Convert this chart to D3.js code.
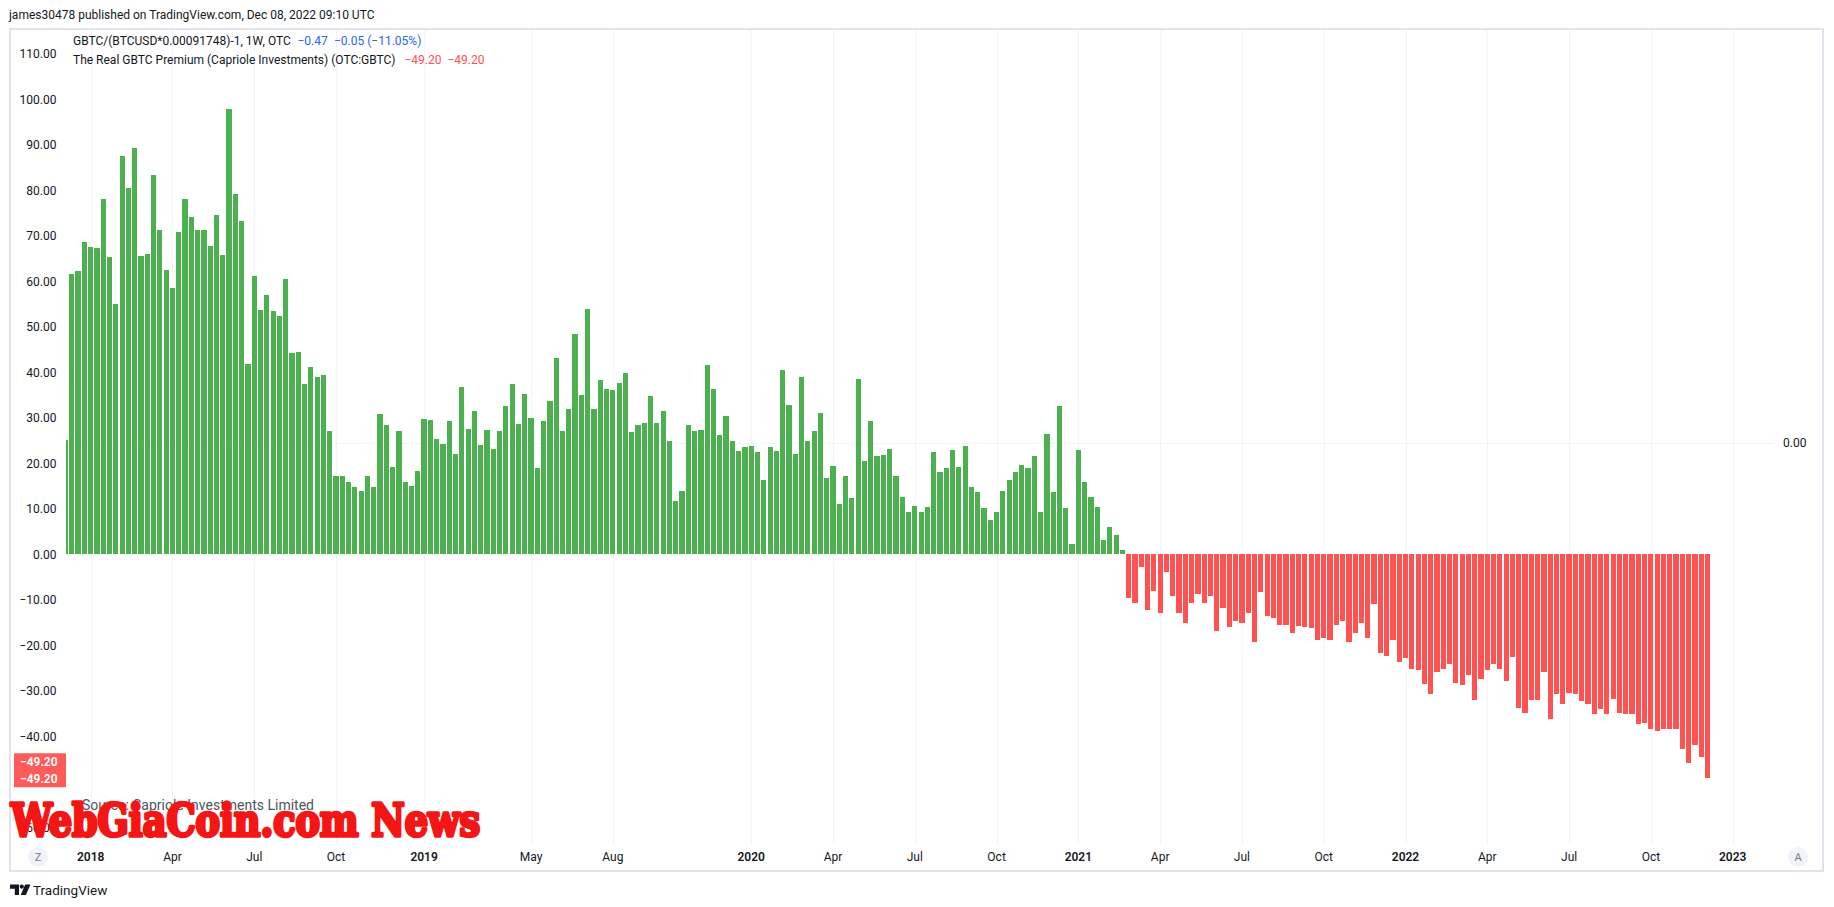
<!DOCTYPE html>
<html><head><meta charset="utf-8">
<script src="https://cdn.jsdelivr.net/npm/d3@7"></script>
<style>
body{margin:0;background:#fff;}
svg{display:block;font-family:Roboto,"Noto Sans",sans-serif;}
</style>
</head><body><svg id="c" width="1834" height="907"></svg>
<script>
// ---- DATA ----
const startWeek = "2017-12-04"; // first weekly bar (Monday)
const premium = [
  25.2, 61.6, 62.3, 68.6, 67.5, 67.3, 78.1, 65.4, 55.0, 87.5,
  80.5, 89.3, 65.6, 66.0, 83.3, 71.3, 62.5, 58.6, 70.8, 78.1,
  74.1, 71.3, 71.3, 67.8, 74.6, 65.8, 97.8, 79.2, 73.2, 41.9,
  61.2, 53.7, 57.0, 53.5, 52.4, 60.5, 44.3, 44.5, 37.5, 41.2,
  39.0, 39.5, 27.0, 17.3, 17.1, 16.0, 14.9, 14.0, 17.3, 14.9,
  30.9, 28.5, 19.1, 27.0, 15.8, 15.1, 18.4, 29.8, 29.6, 25.4,
  24.3, 29.2, 22.1, 36.8, 27.6, 31.6, 24.1, 27.4, 23.2, 27.2,
  32.7, 37.5, 28.7, 35.3, 30.0, 18.9, 29.4, 33.8, 43.2, 27.2,
  32.0, 48.5, 35.1, 53.9, 32.0, 38.4, 36.4, 36.2, 37.7, 39.9,
  26.8, 28.5, 28.9, 34.9, 28.9, 31.6, 25.0, 11.8, 14.0, 28.5,
  27.2, 27.4, 41.7, 36.4, 26.3, 30.5, 24.8, 22.8, 23.5, 23.9,
  22.4, 16.4, 23.5, 22.6, 40.6, 32.9, 22.1, 39.0, 24.8, 27.0,
  31.1, 16.7, 19.3, 11.0, 17.3, 12.3, 38.6, 20.6, 29.2, 21.7,
  21.9, 23.2, 17.3, 12.5, 9.2, 10.7, 9.4, 10.3, 22.4, 18.0,
  18.9, 23.0, 19.1, 23.7, 14.7, 13.6, 10.1, 7.5, 9.4, 14.0,
  16.4, 18.0, 19.7, 18.9, 21.7, 9.4, 26.5, 13.6, 32.7, 10.1,
  2.2, 23.0, 16.0, 12.7, 10.5, 3.1, 6.1, 4.2, 0.9, -9.5,
  -10.6, -2.7, -12.2, -8.0, -12.8, -3.8, -9.1, -12.8, -15.2, -10.6,
  -8.7, -10.6, -9.1, -16.8, -11.7, -15.9, -14.6, -15.0, -13.0, -19.2,
  -8.2, -13.5, -13.9, -15.5, -15.5, -17.2, -15.7, -15.9, -16.3, -18.8,
  -18.3, -18.8, -15.5, -14.6, -19.2, -17.2, -15.2, -18.5, -10.9, -21.6,
  -22.3, -18.8, -23.6, -22.7, -25.3, -25.5, -28.4, -30.6, -25.8, -25.1,
  -24.0, -28.2, -28.8, -26.6, -32.1, -27.3, -25.5, -24.2, -25.1, -27.8,
  -22.5, -33.7, -34.8, -32.1, -32.1, -25.8, -36.1, -30.6, -33.0, -30.4,
  -30.6, -32.3, -33.0, -35.2, -34.1, -35.2, -31.7, -34.8, -35.0, -35.0,
  -37.2, -37.0, -38.5, -38.9, -38.5, -38.3, -38.3, -42.7, -45.8, -42.0,
  -44.6, -49.2
];
const tickLabels = ["2018","Apr","Jul","Oct","2019","May","Aug","2020","Apr","Jul","Oct","2021","Apr","Jul","Oct","2022","Apr","Jul","Oct","2023"];
const tickDates  = ["2018-01-01","2018-04-02","2018-07-02","2018-10-01","2019-01-07","2019-05-06","2019-08-05","2020-01-06","2020-04-06","2020-07-06","2020-10-05","2021-01-04","2021-04-05","2021-07-05","2021-10-04","2022-01-03","2022-04-04","2022-07-04","2022-10-03","2023-01-02"];
const leftTicks = [110,100,90,80,70,60,50,40,30,20,10,0,-10,-20,-30,-40,-50,-60];
const rightTicks = [0];
const lastValue = -49.20;
const headerText = "james30478 published on TradingView.com, Dec 08, 2022 09:10 UTC";
const legend1 = ["GBTC/(BTCUSD*0.00091748)-1, 1W, OTC", "\u22120.47", "\u22120.05 (\u221211.05%)"];
const legend2 = ["The Real GBTC Premium (Capriole Investments) (OTC:GBTC)", "\u221249.20", "\u221249.20"];

// ---- LAYOUT ----
const parse = d3.utcParse("%Y-%m-%d");
const t0 = parse(startWeek);
const dates = premium.map((v,i)=> d3.utcDay.offset(t0, 7*i));
const pane = {l:66, r:1774, t:30, b:844};
const svg = d3.select("#c");
const TXT = "#131722", GRID = "#f0f3fa", GREEN = "#4caf50", RED = "#ff5252", BLUE = "#2962ff";

const x = d3.scaleUtc().domain([dates[0], dates[dates.length-1]]).range([65.5, 1707.5]);
const y = d3.scaleLinear().domain([-60, 110]).range([827.3, 53.8]);
const y2 = d3.scaleLinear().domain([-1, 1]).range([833, 53]);

// header
svg.append("text").attr("x",9).attr("y",19).attr("font-size",12).attr("fill",TXT).text(headerText);

// frame
svg.append("rect").attr("x",10).attr("y",29).attr("width",1813).attr("height",842)
  .attr("fill","none").attr("stroke","#e0e3eb").attr("stroke-width",2);

// clip
svg.append("defs").append("clipPath").attr("id","pc").append("rect")
  .attr("x",pane.l).attr("y",pane.t).attr("width",pane.r-pane.l).attr("height",pane.b-pane.t);

// grid
const g = svg.append("g").attr("clip-path","url(#pc)");
g.selectAll("line.v").data(tickDates).join("line")
  .attr("x1",d=>Math.round(x(parse(d)))+0.5).attr("x2",d=>Math.round(x(parse(d)))+0.5)
  .attr("y1",pane.t).attr("y2",pane.b).attr("stroke",GRID).attr("stroke-width",1);
g.selectAll("line.h").data(rightTicks).join("line")
  .attr("x1",pane.l).attr("x2",pane.r).attr("y1",d=>Math.round(y2(d))+0.5).attr("y2",d=>Math.round(y2(d))+0.5)
  .attr("stroke",GRID).attr("stroke-width",1);

// bars
const bw = 5.2;
g.selectAll("rect.bar").data(premium).join("rect")
  .attr("x",(d,i)=> x(dates[i]) - bw/2)
  .attr("width",bw)
  .attr("y",d=> Math.min(y(d), y(0)))
  .attr("height",d=> Math.abs(y(d)-y(0)))
  .attr("fill",d=> d>=0 ? GREEN : RED)
  .attr("shape-rendering","crispEdges");

// left axis labels
const plY = y(lastValue);
svg.append("g").selectAll("text").data(leftTicks.filter(v=> Math.abs(y(v)-plY) > 14)).join("text")
  .attr("x",56.5).attr("y",d=>y(d)).attr("dy","0.35em").attr("text-anchor","end")
  .attr("font-size",12).attr("fill",TXT).text(d=> d3.format(".2f")(d).replace("-","\u2212"));

// right axis label
svg.append("g").selectAll("text").data(rightTicks).join("text")
  .attr("x",1783).attr("y",d=>y2(d)).attr("dy","0.35em").attr("font-size",12).attr("fill",TXT)
  .text(d=> d3.format(".2f")(d));

// time axis
svg.append("g").selectAll("text").data(tickLabels).join("text")
  .attr("x",(d,i)=> x(parse(tickDates[i]))).attr("y",857).attr("dy","0.35em")
  .attr("text-anchor","middle").attr("font-size",12)
  .attr("font-weight",d=> /^\d{4}$/.test(d) ? 600 : 400)
  .attr("fill",TXT).text(d=>d);

// Z / A buttons
[[38,"Z"],[1798,"A"]].forEach(([cx,t])=>{
  svg.append("circle").attr("cx",cx).attr("cy",857).attr("r",10).attr("fill","#f0f3fa");
  svg.append("text").attr("x",cx).attr("y",857).attr("dy","0.35em").attr("text-anchor","middle")
    .attr("font-size",11).attr("fill","#787b86").text(t);
});

// legend
const L1x = [73, 297.5, 334], L2x = [73, 404.5, 447.5];
const c1 = [TXT, BLUE, BLUE], c2 = [TXT, RED, RED];
legend1.forEach((t,i)=> svg.append("text").attr("x",L1x[i]).attr("y",45).attr("font-size",12).attr("fill",c1[i]).text(t));
legend2.forEach((t,i)=> svg.append("text").attr("x",L2x[i]).attr("y",64).attr("font-size",12).attr("fill",c2[i]).text(t));

// source text
svg.append("text").attr("x",82).attr("y",810).attr("font-size",14).attr("fill","#50535e")
  .text("Source: Capriole Investments Limited");

// price label box
svg.append("rect").attr("x",14).attr("y",plY-25).attr("width",52).attr("height",34)
  .attr("rx",1).attr("fill",RED).attr("opacity",0.95);
const pl = d3.format(".2f")(lastValue).replace("-","\u2212");
svg.append("text").attr("x",20).attr("y",plY-16).attr("dy","0.35em").attr("font-size",12)
  .attr("font-weight",600).attr("fill","#fff").text(pl);
svg.append("text").attr("x",20).attr("y",plY+1).attr("dy","0.35em").attr("font-size",12)
  .attr("font-weight",600).attr("fill","#fff").text(pl);

// watermark
svg.append("text").attr("x",11).attr("y",836)
  .attr("font-family","'DejaVu Serif Condensed','DejaVu Serif',serif")
  .attr("font-weight",900).attr("font-size",45)
  .attr("textLength",469).attr("lengthAdjust","spacingAndGlyphs")
  .attr("fill","#f41515").attr("stroke","#f41515").attr("stroke-width",3.4)
  .attr("stroke-linejoin","round")
  .text("WebGiaCoin.com News");

// TradingView logo
const lg = svg.append("g").attr("fill",TXT);
lg.append("path").attr("d","M10,884.5 h9 v10.5 h-4.2 v-6.3 h-4.8 z");
lg.append("circle").attr("cx",21.8).attr("cy",886.6).attr("r",2.1);
lg.append("path").attr("d","M25.2,884.5 h5.3 l-4.6,10.5 h-5.2 z");
svg.append("text").attr("x",33).attr("y",894.5).attr("font-size",13.5).attr("fill",TXT).text("TradingView");
</script>
</body></html>
